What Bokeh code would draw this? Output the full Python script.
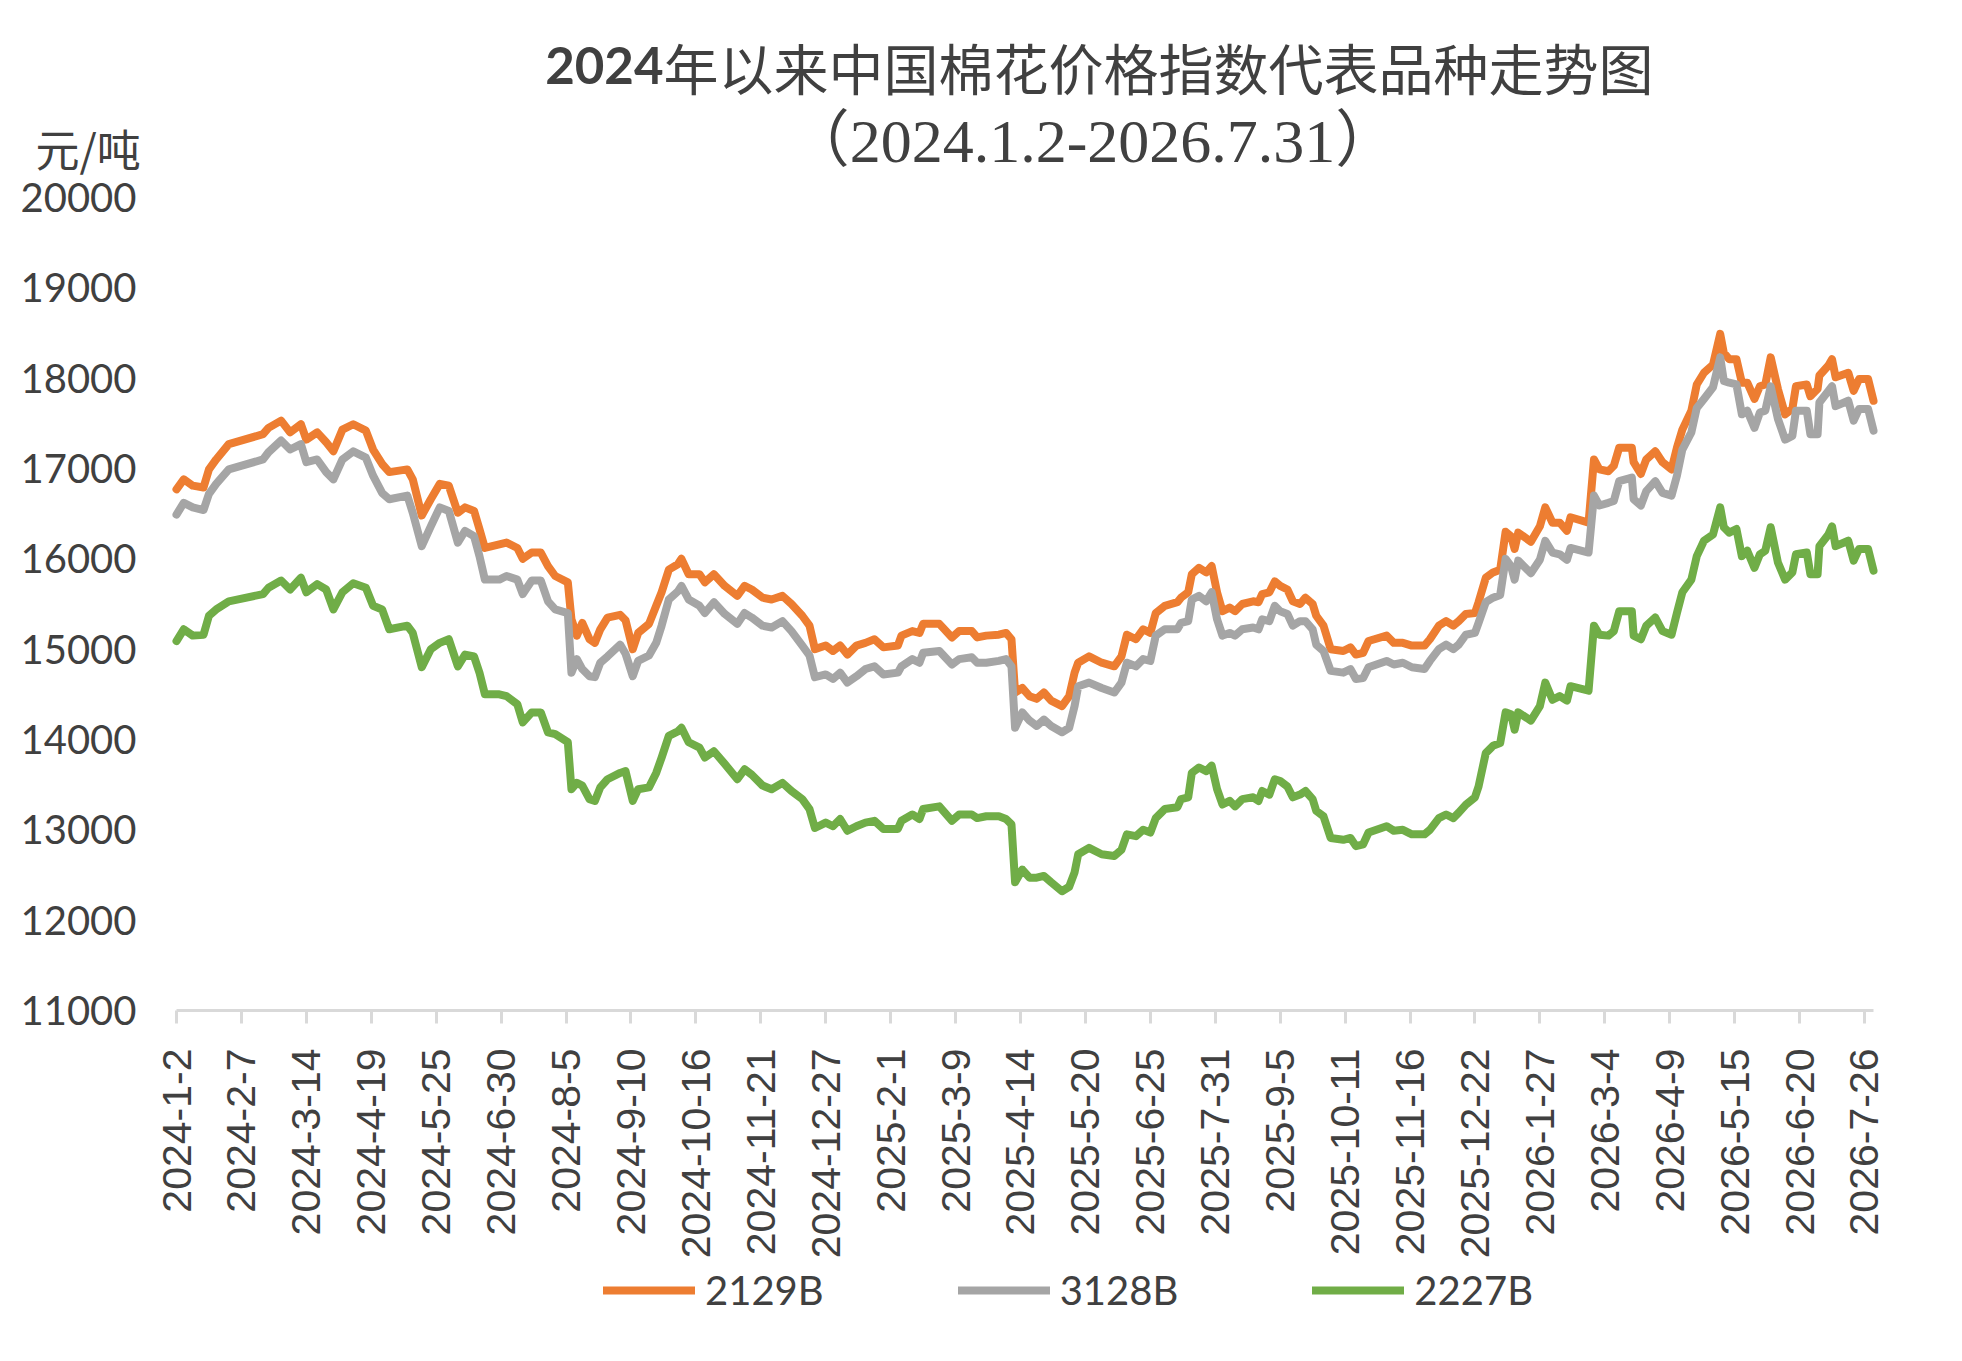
import math
import pandas as pd
from bokeh.plotting import figure
from bokeh.models import (Range1d, FixedTicker, CustomJSTickFormatter, Label,
                          Legend, LegendItem, ColumnDataSource)
from bokeh.embed import file_html
from bokeh.resources import INLINE

# ---------------- data ----------------
start_date = "2024-01-02"
# trading day, counted in calendar days from 2024-01-02
trade_day = [
    0, 4, 9, 15, 18, 22, 29, 48, 51, 58, 63, 69, 72, 78, 83, 87, 92, 98, 105, 109,
    114, 118, 128, 131, 136, 141, 146, 151, 156, 160, 165, 168, 171, 179, 183, 189, 192, 197, 202, 206,
    210, 217, 219, 222, 225, 229, 232, 235, 239, 246, 249, 253, 256, 262, 266, 269, 273, 278, 280, 284,
    290, 293, 298, 304, 311, 315, 319, 325, 330, 336, 341, 347, 351, 354, 360, 364, 368, 372, 377, 382,
    387, 392, 400, 402, 408, 412, 414, 423, 430, 434, 441, 444, 449, 456, 460, 463, 465, 469, 473, 477,
    481, 485, 491, 495, 498, 500, 506, 513, 520, 524, 527, 532, 536, 540, 543, 548, 555, 557, 561, 563,
    567, 571, 574, 577, 580, 584, 587, 591, 597, 600, 602, 606, 609, 612, 616, 619, 623, 626, 630, 632,
    636, 640, 647, 651, 654, 658, 661, 671, 675, 680, 685, 692, 695, 700, 704, 708, 711, 715, 720, 722,
    726, 730, 734, 737, 740, 742, 744, 751, 756, 759, 763, 767, 771, 773, 783, 786, 789, 794, 797, 800,
    807, 808, 812, 815, 820, 824, 829, 832, 835, 840, 843, 847, 852, 856, 858, 861, 865, 868, 871, 875,
    878, 881, 884, 888, 892, 896, 898, 904, 906, 910, 911, 916, 918, 920, 927, 930, 933, 938, 941,
]
idx_2129B = [
    16770, 16880, 16810, 16790, 16990, 17100, 17270, 17380, 17450, 17530, 17400, 17490, 17320, 17400, 17290, 17190, 17430, 17490, 17420, 17210,
    17050, 16960, 16990, 16880, 16480, 16660, 16830, 16810, 16510, 16570, 16530, 16330, 16120, 16160, 16180, 16120, 16000, 16070, 16070, 15920,
    15810, 15740, 15330, 15150, 15290, 15110, 15070, 15220, 15350, 15380, 15320, 15000, 15180, 15280, 15480, 15630, 15880, 15940, 16000, 15830,
    15830, 15740, 15830, 15700, 15590, 15700, 15660, 15570, 15550, 15590, 15500, 15370, 15260, 15000, 15040, 14980, 15040, 14940, 15040, 15070,
    15110, 15020, 15040, 15150, 15200, 15180, 15280, 15280, 15130, 15200, 15200, 15130, 15150, 15160, 15180, 15110, 14520, 14570, 14480, 14450,
    14520, 14430, 14370, 14480, 14740, 14850, 14920, 14850, 14810, 14920, 15160, 15110, 15220, 15180, 15400, 15480, 15520, 15570, 15630, 15830,
    15900, 15850, 15920, 15630, 15420, 15460, 15420, 15500, 15530, 15520, 15610, 15630, 15750, 15700, 15660, 15530, 15500, 15570, 15500, 15370,
    15260, 15000, 14980, 15020, 14940, 14960, 15090, 15150, 15070, 15070, 15040, 15040, 15110, 15260, 15310, 15260, 15310, 15390, 15400, 15520,
    15790, 15850, 15880, 16300, 16250, 16110, 16290, 16190, 16360, 16570, 16400, 16400, 16310, 16460, 16400, 17100, 16990, 16970, 17030, 17230,
    17230, 17070, 16940, 17100, 17190, 17070, 16990, 17230, 17430, 17640, 17930, 18060, 18150, 18490, 18280, 18210, 18210, 17950, 17950, 17770,
    17910, 17930, 18230, 17880, 17600, 17660, 17910, 17930, 17800, 17880, 18030, 18140, 18210, 18010, 18060, 17860, 17990, 17990, 17750,
]
idx_3128B = [
    16490, 16620, 16570, 16540, 16720, 16830, 16990, 17100, 17180, 17310, 17210, 17270, 17070, 17100, 16960, 16880, 17100, 17190, 17120, 16920,
    16730, 16660, 16700, 16510, 16140, 16360, 16570, 16530, 16180, 16310, 16250, 16030, 15770, 15770, 15810, 15770, 15610, 15760, 15760, 15530,
    15440, 15400, 14740, 14890, 14780, 14700, 14690, 14850, 14920, 15050, 14950, 14700, 14870, 14930, 15070, 15260, 15550, 15640, 15700, 15550,
    15480, 15400, 15520, 15390, 15280, 15400, 15350, 15260, 15240, 15310, 15200, 15040, 14930, 14690, 14720, 14670, 14740, 14630, 14700, 14780,
    14810, 14720, 14740, 14810, 14890, 14850, 14960, 14980, 14830, 14890, 14910, 14850, 14850, 14870, 14890, 14810, 14130, 14300, 14210, 14150,
    14220, 14150, 14080, 14130, 14370, 14590, 14630, 14570, 14520, 14630, 14850, 14810, 14890, 14870, 15150, 15220, 15220, 15290, 15310, 15550,
    15590, 15530, 15630, 15330, 15150, 15180, 15150, 15220, 15240, 15220, 15330, 15310, 15480, 15420, 15390, 15260, 15310, 15310, 15220, 15050,
    14980, 14760, 14740, 14780, 14670, 14680, 14800, 14870, 14830, 14850, 14800, 14780, 14870, 15000, 15050, 15000, 15050, 15160, 15180, 15290,
    15520, 15570, 15600, 16000, 15920, 15770, 15980, 15840, 15990, 16200, 16070, 16050, 15990, 16120, 16070, 16700, 16590, 16620, 16640, 16860,
    16900, 16660, 16590, 16750, 16860, 16730, 16700, 16920, 17210, 17400, 17670, 17770, 17900, 18230, 17970, 17950, 17930, 17600, 17640, 17450,
    17620, 17640, 17910, 17550, 17320, 17360, 17640, 17640, 17380, 17380, 17730, 17860, 17910, 17690, 17750, 17530, 17660, 17660, 17420,
]
idx_2227B = [
    15090, 15220, 15150, 15160, 15370, 15440, 15530, 15610, 15680, 15760, 15660, 15790, 15630, 15720, 15660, 15440, 15630, 15730, 15680, 15480,
    15440, 15220, 15260, 15180, 14800, 15000, 15070, 15110, 14810, 14940, 14920, 14740, 14500, 14500, 14480, 14390, 14190, 14300, 14300, 14080,
    14060, 13970, 13450, 13520, 13490, 13340, 13320, 13470, 13560, 13630, 13650, 13320, 13450, 13470, 13630, 13800, 14040, 14090, 14130, 13970,
    13910, 13800, 13870, 13730, 13560, 13670, 13610, 13490, 13450, 13520, 13430, 13340, 13230, 13020, 13080, 13040, 13120, 12990, 13040, 13080,
    13100, 13010, 13010, 13100, 13170, 13120, 13230, 13260, 13100, 13170, 13170, 13130, 13150, 13150, 13120, 13060, 12420, 12560, 12470, 12470,
    12490, 12420, 12320, 12370, 12530, 12730, 12800, 12730, 12710, 12780, 12950, 12930, 13000, 12970, 13130, 13230, 13250, 13340, 13360, 13630,
    13690, 13650, 13710, 13450, 13280, 13320, 13260, 13340, 13360, 13320, 13430, 13390, 13560, 13540, 13480, 13360, 13390, 13430, 13340, 13210,
    13150, 12910, 12890, 12910, 12820, 12840, 12970, 13040, 12990, 13000, 12950, 12950, 13000, 13130, 13170, 13130, 13190, 13280, 13360, 13480,
    13850, 13930, 13960, 14300, 14280, 14110, 14300, 14210, 14370, 14630, 14440, 14480, 14430, 14590, 14540, 15260, 15160, 15150, 15200, 15420,
    15420, 15150, 15110, 15260, 15350, 15200, 15160, 15400, 15630, 15770, 16030, 16200, 16270, 16570, 16350, 16290, 16330, 16030, 16090, 15900,
    16050, 16090, 16350, 15960, 15770, 15850, 16050, 16070, 15830, 15830, 16140, 16270, 16360, 16140, 16200, 15980, 16110, 16110, 15870,
]
series_names = ["2129B", "3128B", "2227B"]
series_colors = ["#ED7D31", "#A5A5A5", "#70AD47"]
tick_labels = [
    "2024-1-2", "2024-2-7", "2024-3-14", "2024-4-19", "2024-5-25", "2024-6-30", "2024-8-5",
    "2024-9-10", "2024-10-16", "2024-11-21", "2024-12-27", "2025-2-1", "2025-3-9", "2025-4-14",
    "2025-5-20", "2025-6-25", "2025-7-31", "2025-9-5", "2025-10-11", "2025-11-16", "2025-12-22",
    "2026-1-27", "2026-3-4", "2026-4-9", "2026-5-15", "2026-6-20", "2026-7-26",
]
y_ticks = [11000, 12000, 13000, 14000, 15000, 16000, 17000, 18000, 19000, 20000]
x_start, x_end = pd.Timestamp("2024-01-02"), pd.Timestamp("2026-07-31")
title_num = "2024"
title_cn = "年以来中国棉花价格指数代表品种走势图"
subtitle = "（2024.1.2-2026.7.31）"
unit_label = "元/吨"


def ms(ts):
    return pd.Timestamp(ts).value / 1e6


# ---------------- layout (pixels inside the figure canvas) ----------------
W, H = 1940, 1345
X0_PX, X1_PX = 176, 1873          # axis start / end columns
Y20K_PX, Y11K_PX = 197, 1010      # rows of the top and bottom y ticks
px_per_day = (X1_PX - X0_PX) / ((x_end - x_start) / pd.Timedelta(days=1))
view_x0 = x_start - pd.Timedelta(days=X0_PX / px_per_day)
view_x1 = x_end + pd.Timedelta(days=(W - X1_PX) / px_per_day)
px_per_unit = (Y11K_PX - Y20K_PX) / (y_ticks[-1] - y_ticks[0])
view_y1 = y_ticks[-1] + Y20K_PX / px_per_unit
view_y0 = y_ticks[0] - (H - Y11K_PX) / px_per_unit

# ---------------- build ----------------
dates = pd.Timestamp(start_date) + pd.to_timedelta(trade_day, unit="D")
src = ColumnDataSource(dict(date=dates, s0=idx_2129B, s1=idx_3128B, s2=idx_2227B))

p = figure(width=W, height=H, x_axis_type="datetime",
           x_range=Range1d(ms(view_x0), ms(view_x1)), y_range=Range1d(view_y0, view_y1),
           output_backend="svg", toolbar_location=None,
           min_border=0, min_border_left=0, min_border_right=0,
           min_border_top=0, min_border_bottom=0)
p.outline_line_color = None
p.xgrid.visible = False
p.ygrid.visible = False
p.background_fill_color = "white"
p.border_fill_color = "white"

TXT = "#404040"

xa = p.xaxis[0]
xa.fixed_location = y_ticks[0]
xa.bounds = (ms(x_start), ms(x_end))
xa.ticker = FixedTicker(ticks=[ms(t) for t in tick_labels])
xa.formatter = CustomJSTickFormatter(code="""
const d = new Date(tick);
return d.getUTCFullYear() + "-" + (d.getUTCMonth() + 1) + "-" + d.getUTCDate();
""")
xa.axis_line_color = "#D9D9D9"
xa.axis_line_width = 3
xa.major_tick_line_color = "#D9D9D9"
xa.major_tick_line_width = 3
xa.major_tick_out = 13
xa.major_tick_in = 0
xa.minor_tick_line_color = None
xa.major_label_orientation = math.pi / 2
xa.major_label_text_font = "Liberation Sans"
xa.major_label_text_font_size = "41px"
xa.major_label_text_color = TXT
xa.major_label_standoff = 25

ya = p.yaxis[0]
ya.fixed_location = ms(x_start)
ya.bounds = (y_ticks[0], y_ticks[-1])
ya.ticker = FixedTicker(ticks=y_ticks)
ya.axis_line_color = None
ya.major_tick_line_color = None
ya.minor_tick_line_color = None
ya.major_tick_out = 0
ya.major_tick_in = 0
ya.major_label_text_font = "Lato"
ya.major_label_text_font_size = "40px"
ya.major_label_text_color = TXT
ya.major_label_standoff = 40

renderers = []
for i, (name, col) in enumerate(zip(series_names, series_colors)):
    r = p.line("date", f"s{i}", source=src, line_color=col, line_width=8,
               line_join="round", line_cap="round")
    renderers.append(r)

legend = Legend(items=[LegendItem(label=n, renderers=[r]) for n, r in zip(series_names, renderers)],
                orientation="horizontal", location=(603, 31))
legend.border_line_color = None
legend.background_fill_alpha = 0
legend.glyph_width = 92
legend.glyph_height = 40
legend.label_standoff = 10
legend.spacing = 134
legend.padding = 0
legend.margin = 0
legend.label_text_font = "Lato"
legend.label_text_font_size = "40px"
legend.label_text_color = TXT
p.add_layout(legend)

# texts (screen units from the canvas' bottom-left corner; frame fills the canvas)
p.add_layout(Label(x=663, y=H - 65, x_units="screen", y_units="screen",
                   text=title_num, text_align="right", text_baseline="alphabetic",
                   text_font="Lato", text_font_style="bold", text_font_size="51px",
                   text_color=TXT))
p.add_layout(Label(x=663, y=H - 65, x_units="screen", y_units="screen",
                   text=title_cn, text_align="left", text_baseline="alphabetic",
                   text_font="Noto Sans CJK SC", text_font_size="55px",
                   text_color=TXT))
p.add_layout(Label(x=1092, y=H - 140, x_units="screen", y_units="screen",
                   text=subtitle, text_align="center", text_baseline="middle",
                   text_font="Liberation Serif, Noto Sans CJK SC", text_font_size="62px",
                   text_color=TXT))
p.add_layout(Label(x=35, y=H - 147, x_units="screen", y_units="screen",
                   text=unit_label, text_align="left", text_baseline="middle",
                   text_font="Noto Sans CJK SC", text_font_size="44px",
                   text_color=TXT))

open("out.html", "w").write(file_html(p, INLINE))
